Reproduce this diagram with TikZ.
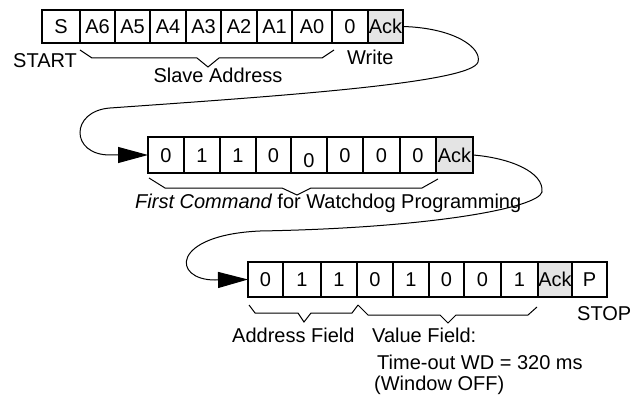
\documentclass[tikz,border=0pt]{standalone}
\usepackage{fontspec}
\setmainfont{Liberation Sans}
\usetikzlibrary{arrows.meta}
\definecolor{ackgray}{RGB}{228,228,228}
\begin{document}
\begin{tikzpicture}[x=1pt,y=-1pt,
  cell/.style={draw, line width=1.6pt, rectangle, inner sep=0pt, outer sep=0pt,
    text height=14.3pt, text depth=0pt, font=\fontsize{20}{24}\selectfont},
  ackcell/.style={cell, fill=ackgray},
  r1/.style={minimum height=33pt},
  r2/.style={minimum height=36pt},
  r3/.style={minimum height=35pt},
  lbl/.style={anchor=base west, inner sep=0pt, font=\fontsize{20}{24}\selectfont},
  brace/.style={line width=1pt, line join=miter},
  flow/.style={line width=1pt, -{Triangle[length=30pt,width=16pt]}}
]
\useasboundingbox (0,0) rectangle (641,396);

% Row 1
\node[cell,r1,minimum width=38pt] (s)  at (61,26.5) {S};
\node[cell,r1,minimum width=35pt] (a6) at (97.5,26.5) {A6};
\node[cell,r1,minimum width=35pt] (a5) at (132.5,26.5) {A5};
\node[cell,r1,minimum width=36pt] (a4) at (168,26.5) {A4};
\node[cell,r1,minimum width=35pt] (a3) at (203.5,26.5) {A3};
\node[cell,r1,minimum width=36pt] (a2) at (239,26.5) {A2};
\node[cell,r1,minimum width=35pt] (a1) at (274.5,26.5) {A1};
\node[cell,r1,minimum width=40pt] (a0) at (312,26.5) {A0};
\node[cell,r1,minimum width=36pt] (rw) at (350,26.5) {0};
\node[ackcell,r1,minimum width=35pt] (ack1) at (385.5,26.5) {Ack};

% Row 2
\node[cell,r2,minimum width=36pt] (b1) at (166,155) {0};
\node[cell,r2,minimum width=36pt] (b2) at (202,155) {1};
\node[cell,r2,minimum width=36pt] (b3) at (238,155) {1};
\node[cell,r2,minimum width=35pt] (b4) at (273.5,155) {0};
\node[cell,r2,minimum width=36pt] (b5) at (309,155) {\raisebox{-5pt}{0}};
\node[cell,r2,minimum width=36pt] (b6) at (345,155) {0};
\node[cell,r2,minimum width=37pt] (b7) at (381.5,155) {0};
\node[cell,r2,minimum width=36pt] (b8) at (418,155) {0};
\node[ackcell,r2,minimum width=37pt] (ack2) at (454.5,155) {Ack};

% Row 3
\node[cell,r3,minimum width=35pt] (c1) at (265.5,279.5) {0};
\node[cell,r3,minimum width=38pt] (c2) at (302,279.5) {1};
\node[cell,r3,minimum width=36pt] (c3) at (339,279.5) {1};
\node[cell,r3,minimum width=36pt] (c4) at (375,279.5) {0};
\node[cell,r3,minimum width=36pt] (c5) at (411,279.5) {1};
\node[cell,r3,minimum width=35pt] (c6) at (446.5,279.5) {0};
\node[cell,r3,minimum width=37pt] (c7) at (482.5,279.5) {0};
\node[cell,r3,minimum width=37pt] (c8) at (519.5,279.5) {1};
\node[ackcell,r3,minimum width=34pt] (ack3) at (555,279.5) {Ack};
\node[cell,r3,minimum width=35pt] (p) at (589.5,279.5) {P};

% Labels
\node[lbl] (start) at (13,68) {START};
\node[lbl,anchor=base] (slave) at (218,83) {Slave Address};
\node[lbl] (write) at (347,65) {Write};
\node[lbl] (first) at (135,208) {\itshape First Command\upshape{} for Watchdog Programming};
\node[lbl] (addr) at (232,342) {Address Field};
\node[lbl] (val) at (372,342) {Value Field:};
\node[lbl] (tout) at (377,369) {Time-out WD = 320 ms};
\node[lbl] (win) at (374,390) {(Window OFF)};
\node[lbl] (stop) at (577,320) {STOP};

% Braces
\draw[brace] (80,50) -- (92,58) -- (197,58) -- (208,67) -- (219,58) -- (322,58) -- (334,50);
\draw[brace] (149,178) -- (165,188) -- (282,188) -- (297,195) -- (311,188) -- (422,188) -- (438,179);
\draw[brace] (249,305) -- (255,313) -- (298,313) -- (304,322) -- (311,313) -- (352,313) -- (358,305);
\draw[brace] (358,305) -- (368,315) -- (440,315) -- (448,323) -- (456,315) -- (528,315) -- (537,307);

% Flow connectors
\draw[flow] (ack1.east) .. controls (455,28) and (482,48) .. (478,62)
  .. controls (472,83) and (280,96) .. (110,108)
  .. controls (70,111) and (70,155) .. (110,155) -- (b1.west);
\draw[flow] (ack2.east) .. controls (510,158) and (544,172) .. (542,192)
  .. controls (538,208) and (430,228) .. (260,231)
  .. controls (170,235) and (172,280) .. (215,280) -- (c1.west);
\end{tikzpicture}
\end{document}
